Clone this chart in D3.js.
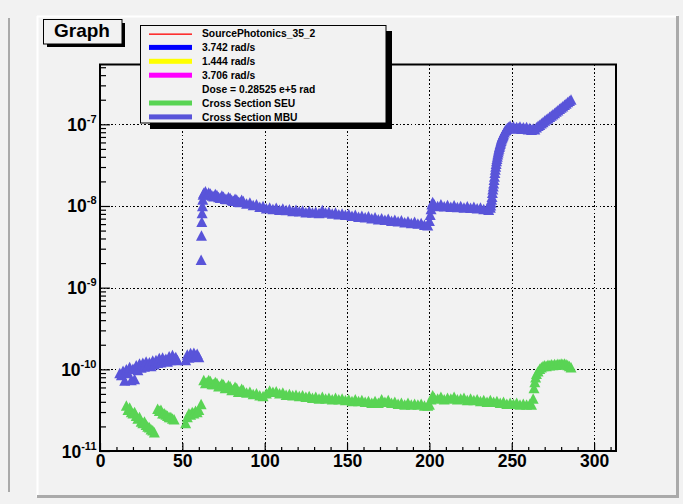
<!DOCTYPE html>
<html><head><meta charset="utf-8">
<script src="https://cdn.jsdelivr.net/npm/d3@7"></script>
<style>
body{margin:0;background:#f2f2f2}
svg{display:block}
text{font-family:"Liberation Sans",Arial,Helvetica,sans-serif;font-weight:bold;fill:#000}
</style>
</head><body>
<svg id="c" width="683" height="504"></svg>
<script>
// ---------------- data ----------------
const titleText = "Graph";
const xTickValues = [0, 50, 100, 150, 200, 250, 300];
const yDecades = [1e-11, 1e-10, 1e-9, 1e-8, 1e-7];
const yExponents = ["-11", "-10", "-9", "-8", "-7"];
const legendLabels = ["SourcePhotonics_35_2", "3.742 rad/s", "1.444 rad/s", "3.706 rad/s",
  "Dose = 0.28525 e+5 rad", "Cross Section SEU", "Cross Section MBU"];
const legendKinds = ["line", "bar", "bar", "bar", "none", "bar", "bar"];
const legendColors = ["#ff0000", "#0000ff", "#ffff00", "#ff00ff", "none", "#59d454", "#5954d9"];

const mbuEarly = [[12,9.0e-11],[13,8.5e-11],[14,9.6e-11],[15,7.3e-11],[16,1.0e-10],[17,9.0e-11],[18,1.07e-10],
  [19,7.4e-11],[20,1.02e-10],[21,7.6e-11],[22,1.12e-10],[23,9.8e-11],[24,1.18e-10],[25,1.05e-10],[26,1.2e-10],
  [27,1.08e-10],[28,1.25e-10],[29,1.12e-10],[30,1.22e-10],[31,1.1e-10],[32,1.28e-10],[33,1.15e-10],[34,1.3e-10],
  [35,1.2e-10],[36,1.38e-10],[37,1.22e-10],[38,1.4e-10],[39,1.28e-10],[40,1.35e-10],[41,1.25e-10],[42,1.45e-10],
  [43,1.3e-10],[44,1.5e-10],[45,1.35e-10],[46,1.42e-10],[47,1.3e-10],
  [52,1.3e-10],[53,1.52e-10],[54,1.4e-10],[55,1.58e-10],[56,1.45e-10],[57,1.6e-10],[58,1.48e-10],[59,1.55e-10],[60,1.42e-10]];
const mbuColumn = [[61.4,2.2e-9],[61.6,4.35e-9],[61.8,6.4e-9],[62.0,8.2e-9],[62.2,1.0e-8],[62.4,1.2e-8],[62.6,1.38e-8]];
const mbuMain = [[63,14.5e-9],[64,15.2e-9],[65,13.8e-9],[66,14.6e-9],[67,14.2e-9],[68,13.4e-9],[69,13.2e-9],[70,14.0e-9],
  [71,13.6e-9],[72,12.9e-9],[73,12.6e-9],[74,13.4e-9],[75,13.0e-9],[76,12.3e-9],[77,12.2e-9],[78,12.9e-9],
  [79,12.5e-9],[80,11.8e-9],[81,11.6e-9],[82,12.3e-9],[83,12.0e-9],[84,11.3e-9],[85,11.2e-9],[86,11.9e-9],[87,11.5e-9],
  [89,10.7e-9],[91,11.0e-9],[93,10.3e-9],[95,10.5e-9],
  [97,9.8e-9],[99,10.0e-9],[101,9.4e-9],[103,9.6e-9],[105,9.2e-9],[107,9.5e-9],[109,9.0e-9],[111,9.3e-9],[113,8.9e-9],
  [115,9.1e-9],[117,8.7e-9],[119,9.0e-9],[121,8.6e-9],[123,8.8e-9],[125,8.4e-9],[127,8.7e-9],[129,8.3e-9],[131,8.5e-9],
  [133,8.2e-9],[135,8.9e-9],[137,8.3e-9],[139,8.5e-9],[141,8.1e-9],[143,8.3e-9],[145,7.9e-9],[147,8.1e-9],[149,7.8e-9],
  [151,8.0e-9],[153,7.6e-9],[155,7.8e-9],[157,7.4e-9],[159,7.6e-9],[161,7.3e-9],[163,7.5e-9],[165,7.1e-9],[167,7.3e-9],
  [169,6.9e-9],[171,7.1e-9],[173,6.8e-9],[175,7.0e-9],[177,6.6e-9],[179,6.8e-9],[181,6.5e-9],[183,6.7e-9],[185,6.3e-9],
  [187,6.5e-9],[189,6.2e-9],[191,6.4e-9],[193,6.1e-9],[195,6.2e-9],[197,5.9e-9],[199,5.8e-9]];
const mbuStep = [[200,6.6e-9],[200.5,7.8e-9],[201,9.2e-9],[201.5,1.05e-8],[202,1.12e-8],[203,1.04e-8],[205,1.0e-8],
  [207,1.05e-8],[209,9.9e-9],[211,1.03e-8],[213,9.8e-9],[215,1.02e-8],[217,9.7e-9],[219,1.0e-8],[221,9.6e-9],[223,9.9e-9],
  [225,9.5e-9],[227,9.8e-9],[229,9.4e-9],[231,9.6e-9],[233,9.2e-9],[235,9.3e-9],[236,9.0e-9]];
const mbuRise = [[237,9.6e-9],[237.25,1.02e-8],[237.5,1.1e-8],[237.75,1.2e-8],[238,1.3e-8],[238.25,1.45e-8],[238.5,1.6e-8],
  [238.75,1.75e-8],[239,1.9e-8],[239.25,2.1e-8],[239.5,2.3e-8],[239.75,2.55e-8],[240,2.8e-8],[240.25,3.05e-8],
  [240.5,3.3e-8],[240.75,3.55e-8],[241,3.8e-8],[241.25,4.05e-8],[241.5,4.3e-8],[241.75,4.55e-8],[242,4.8e-8],
  [242.25,5.05e-8],[242.5,5.3e-8],[242.75,5.55e-8],[243,5.8e-8],[243.25,6.05e-8],[243.5,6.3e-8],[243.75,6.55e-8],
  [244,6.8e-8],[244.25,7.0e-8],[244.5,7.2e-8],[244.75,7.4e-8],[245,7.6e-8],[245.5,8.0e-8],[246,8.4e-8],[246.5,8.6e-8],
  [247,8.8e-8],[247.5,9.0e-8],[248,9.3e-8]];
const mbuTop = [[249,9.6e-8],[250,9.1e-8],[251,9.5e-8],[252,8.9e-8],[253,9.3e-8],[254,9.0e-8],[255,9.4e-8],[256,8.8e-8],
  [257,9.2e-8],[258,8.9e-8],[259,9.3e-8],[260,8.7e-8],[261,9.0e-8],[262,8.6e-8],[263,8.9e-8],[264,8.7e-8],[265,9.2e-8],
  [266,9.6e-8],[267,9.9e-8],[268,1.03e-7],[269,1.07e-7],[270,1.11e-7],[271,1.15e-7],[272,1.19e-7],[273,1.24e-7],
  [274,1.28e-7],[275,1.33e-7],[276,1.38e-7],[277,1.44e-7],[278,1.49e-7],[279,1.55e-7],[280,1.61e-7],[281,1.67e-7],
  [282,1.73e-7],[283,1.80e-7],[284,1.87e-7],[285,1.94e-7],[286,2.02e-7]];

const seuEarly = [[16,3.6e-11],[17,3.2e-11],[18,3.4e-11],[19,3.0e-11],[20,2.9e-11],[21,3.0e-11],[22,2.7e-11],[23,2.5e-11],
  [24,2.6e-11],[25,2.3e-11],[26,2.2e-11],[27,2.3e-11],[28,2.1e-11],[29,2.0e-11],[30,1.95e-11],[31,1.85e-11],[32,1.8e-11],
  [33,1.7e-11],
  [35,3.3e-11],[36,3.1e-11],[37,3.2e-11],[38,2.9e-11],[39,2.9e-11],[40,2.8e-11],[41,2.7e-11],[42,2.6e-11],[43,2.6e-11],
  [44,2.5e-11],[45,2.45e-11],
  [52,2.2e-11],[53,2.6e-11],[54,2.9e-11],[55,2.8e-11],[56,3.0e-11],[57,2.9e-11],[58,3.1e-11],[59,3.0e-11],[60,3.2e-11],
  [61.4,3.75e-11]];
const seuMain = [[63,7.4e-11],[64,6.8e-11],[65,7.0e-11],[66,7.4e-11],[67,7.2e-11],[68,6.6e-11],[69,6.6e-11],[70,7.0e-11],
  [71,6.8e-11],[72,6.2e-11],[73,6.3e-11],[74,6.7e-11],[75,6.5e-11],[76,5.9e-11],[77,6.0e-11],[78,6.4e-11],
  [79,6.2e-11],[80,5.6e-11],[81,5.7e-11],[82,6.1e-11],[83,5.9e-11],[84,5.3e-11],[85,5.4e-11],[86,5.8e-11],[87,5.6e-11],
  [89,5.2e-11],[91,5.3e-11],[93,5.0e-11],[95,5.1e-11],
  [97,4.8e-11],[99,4.7e-11],[101,5.1e-11],[103,5.5e-11],[105,5.3e-11],[107,5.4e-11],[109,5.1e-11],[111,5.2e-11],
  [113,4.9e-11],[115,5.0e-11],[117,4.8e-11],[119,4.9e-11],[121,4.7e-11],[123,4.8e-11],[125,4.6e-11],[127,4.7e-11],
  [129,4.5e-11],[131,4.6e-11],[133,4.4e-11],[135,4.6e-11],[137,4.4e-11],[139,4.5e-11],[141,4.3e-11],[143,4.5e-11],
  [145,4.3e-11],[147,4.4e-11],[149,4.2e-11],[151,4.3e-11],[153,4.1e-11],[155,4.3e-11],[157,4.1e-11],[159,4.2e-11],
  [161,4.0e-11],[163,4.1e-11],[165,3.9e-11],[167,4.1e-11],[169,3.9e-11],[171,4.3e-11],[173,4.0e-11],[175,4.2e-11],
  [177,3.9e-11],[179,4.0e-11],[181,3.8e-11],[183,3.9e-11],[185,3.7e-11],[187,3.9e-11],[189,3.7e-11],[191,3.8e-11],
  [193,3.7e-11],[195,3.8e-11],[197,3.6e-11],[199,3.6e-11]];
const seuLate = [[200,3.7e-11],[201,4.3e-11],[202,4.8e-11],[203,4.5e-11],[205,4.4e-11],[207,4.6e-11],[209,4.3e-11],
  [211,4.5e-11],[213,4.4e-11],[215,4.6e-11],[217,4.3e-11],[219,4.4e-11],[221,4.5e-11],[223,4.2e-11],[225,4.4e-11],
  [227,4.2e-11],[229,4.3e-11],[231,4.1e-11],[233,4.2e-11],[235,4.0e-11],[237,4.2e-11],[239,4.0e-11],[241,4.1e-11],
  [243,3.9e-11],[245,4.0e-11],[247,3.8e-11],[249,3.9e-11],[251,3.8e-11],[253,3.9e-11],[255,3.7e-11],[257,3.8e-11],
  [259,3.7e-11],[261,3.8e-11],[262,3.7e-11],[263,4.4e-11],[263.5,5.9e-11],[264,7.0e-11],[264.5,8.0e-11],[265,8.8e-11],
  [266,9.5e-11],[267,1.02e-10],[268,1.06e-10],[269,1.10e-10],[270,1.12e-10],[271,1.10e-10],[272,1.14e-10],[273,1.12e-10],
  [274,1.15e-10],[275,1.13e-10],[276,1.16e-10],[277,1.14e-10],[278,1.17e-10],[279,1.15e-10],[280,1.18e-10],[281,1.16e-10],
  [282,1.18e-10],[283,1.15e-10],[284,1.13e-10],[285,1.10e-10],[286,1.06e-10]];

const seuColor = "#59d454";
const mbuColor = "#5954d9";

// ---------------- drawing ----------------
const svg = d3.select("#c");
const W = 683, H = 504;
const fL = 100, fR = 616, fT = 64.5, fB = 451;
const x = d3.scaleLinear().domain([0, 313.3]).range([fL, fR]);
const y = d3.scaleLog().domain([1e-11, 5.4e-7]).range([fB, fT]);

svg.append("rect").attr("width", W).attr("height", H).attr("fill", "#f2f2f2");
// pad borders
svg.append("line").attr("x1", 9).attr("y1", 18).attr("x2", 9).attr("y2", 492).attr("stroke", "#aaaaaa").attr("stroke-width", 2);
svg.append("line").attr("x1", 37).attr("y1", 16.5).attr("x2", 678).attr("y2", 16.5).attr("stroke", "#ffffff").attr("stroke-width", 2);
svg.append("line").attr("x1", 37.5).attr("y1", 16).attr("x2", 37.5).attr("y2", 497).attr("stroke", "#ffffff").attr("stroke-width", 2);
svg.append("line").attr("x1", 677.5).attr("y1", 16).attr("x2", 677.5).attr("y2", 498).attr("stroke", "#aaaaaa").attr("stroke-width", 3);
svg.append("line").attr("x1", 37).attr("y1", 496.5).attr("x2", 679).attr("y2", 496.5).attr("stroke", "#aaaaaa").attr("stroke-width", 3);

// grid (dotted)
const snap = v => Math.round(v) + 0.5;
const grid = svg.append("g").attr("stroke", "#000").attr("stroke-width", 1.4)
  .attr("stroke-dasharray", "1.6,2.1").attr("shape-rendering", "crispEdges");
grid.selectAll("line.gx").data(xTickValues.filter(d => d > 0)).join("line")
  .attr("x1", d => snap(x(d))).attr("x2", d => snap(x(d))).attr("y1", fT).attr("y2", fB);
grid.selectAll("line.gy").data(yDecades.filter(d => d > 1e-11)).join("line")
  .attr("x1", fL).attr("x2", fR).attr("y1", d => snap(y(d))).attr("y2", d => snap(y(d)));

// markers
function tri(w, h) { return `M0,${-h/2}L${w/2},${h/2}L${-w/2},${h/2}Z`; }
const triPath = tri(11, 10.5);
function drawSeries(data, color) {
  svg.append("g").selectAll("path").data(data).join("path")
    .attr("d", triPath)
    .attr("transform", d => `translate(${x(d[0])},${y(d[1])})`)
    .attr("fill", color);
}
drawSeries([...seuEarly, ...seuMain, ...seuLate], seuColor);
drawSeries([...mbuEarly, ...mbuColumn, ...mbuMain, ...mbuStep, ...mbuRise, ...mbuTop], mbuColor);

// frame
svg.append("rect").attr("x", fL).attr("y", fT).attr("width", fR - fL).attr("height", fB - fT)
  .attr("fill", "none").attr("stroke", "#000").attr("stroke-width", 2);

// x axis
const minorX = d3.range(0, 314, 10).filter(d => d % 50 !== 0);
const xMinor = svg.append("g").attr("transform", `translate(0,${fB})`)
  .call(d3.axisBottom(x).tickValues(minorX).tickSize(-4).tickFormat(""));
const xAxis = svg.append("g").attr("transform", `translate(0,${fB})`)
  .call(d3.axisBottom(x).tickValues(xTickValues).tickSize(-8));
[xMinor, xAxis].forEach(g => { g.select(".domain").remove(); g.selectAll("line").attr("stroke", "#000").attr("stroke-width", 1.2); });
xAxis.selectAll("text").attr("y", 16).attr("dy", 0).attr("font-size", 17.5)
  .attr("font-family", "'Liberation Sans',Arial,sans-serif").attr("font-weight", "bold").attr("fill", "#000");

// y axis
const minorY = [];
yDecades.forEach(d => { for (let k = 2; k <= 9; k++) { const v = d * k; if (v < 5.4e-7) minorY.push(v); } });
const yMinor = svg.append("g").attr("transform", `translate(${fL},0)`)
  .call(d3.axisLeft(y).tickValues(minorY).tickSize(-6).tickFormat(""));
const yAxis = svg.append("g").attr("transform", `translate(${fL},0)`)
  .call(d3.axisLeft(y).tickValues(yDecades).tickSize(-10).tickFormat(""));
[yMinor, yAxis].forEach(g => { g.select(".domain").remove(); g.selectAll("line").attr("stroke", "#000").attr("stroke-width", 1.2); });
yAxis.selectAll(".tick text").each(function(d, i) {
  const t = d3.select(this);
  t.text("").attr("x", -3.5).attr("dy", 0).attr("y", 6).attr("text-anchor", "end")
    .attr("font-family", "'Liberation Sans',Arial,sans-serif").attr("font-weight", "bold").attr("fill", "#000");
  t.append("tspan").attr("font-size", 17.5).text("10");
  t.append("tspan").attr("font-size", 11).attr("dy", -8).text(yExponents[i]);
});

// title box
svg.append("rect").attr("x", 47).attr("y", 23).attr("width", 78).attr("height", 24).attr("fill", "#000");
svg.append("rect").attr("x", 43.5).attr("y", 19.5).attr("width", 78.5).attr("height", 24.5)
  .attr("fill", "#f2f2f2").attr("stroke", "#000").attr("stroke-width", 1);
svg.append("text").attr("x", 82).attr("y", 37).attr("text-anchor", "middle").attr("font-size", 19).text(titleText);

// legend
svg.append("rect").attr("x", 150).attr("y", 31).attr("width", 242).attr("height", 98).attr("fill", "#000");
svg.append("rect").attr("x", 140.5).attr("y", 25.5).attr("width", 245.5).attr("height", 97.5)
  .attr("fill", "#f2f2f2").attr("stroke", "#000").attr("stroke-width", 1);
const lg = svg.append("g");
legendLabels.forEach((lab, i) => {
  const cy = 33.5 + i * 13.9;
  if (legendKinds[i] === "line") {
    lg.append("rect").attr("x", 149).attr("y", Math.round(cy) - 0.5).attr("width", 43).attr("height", 1.3).attr("fill", legendColors[i]);
  } else if (legendKinds[i] === "bar") {
    lg.append("rect").attr("x", 149).attr("y", cy - 2.5).attr("width", 43).attr("height", 5).attr("fill", legendColors[i]);
  }
  lg.append("text").attr("x", 202).attr("y", cy + 3.7).attr("font-size", 10.3).text(lab);
});
</script>
</body></html>
